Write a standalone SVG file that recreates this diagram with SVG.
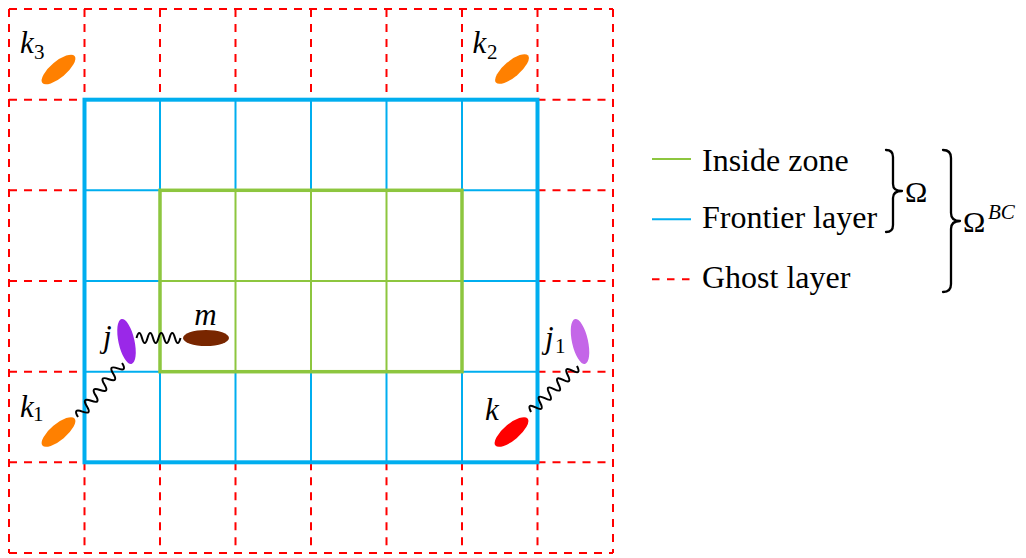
<svg xmlns="http://www.w3.org/2000/svg" width="1026" height="558" viewBox="0 0 1026 558">
<style>
.ghost{fill:none;stroke:#ff0000;stroke-width:2;stroke-dasharray:8 7}
.front{fill:none;stroke:#00aeef;stroke-width:2}
.frontbox{fill:none;stroke:#00aeef;stroke-width:4}
.inside{fill:none;stroke:#8dc63f;stroke-width:2}
.insidebox{fill:none;stroke:#8dc63f;stroke-width:3.5}
.wave{fill:none;stroke:#000;stroke-width:2}
.brace{fill:none;stroke:#000;stroke-width:2.3;stroke-linecap:round;stroke-linejoin:round}
text{font-family:"Liberation Serif","Times New Roman","DejaVu Serif",serif;fill:#000}
.mi{font-style:italic;font-size:31px}
.sub{font-size:21px}
.txt{font-size:32px}
.om{font-size:30px}
.sup{font-style:italic;font-size:21px}
</style>
<rect width="1026" height="558" fill="#fff"/>
<g id="grid">
<path class="ghost" d="M9,9H613 M9,553H613 M9,9V553 M613,9V553
M84.5,9V99.7 M160,9V99.7 M235.5,9V99.7 M311,9V99.7 M386.5,9V99.7 M462,9V99.7 M537.5,9V99.7
M84.5,462.3V553 M160,462.3V553 M235.5,462.3V553 M311,462.3V553 M386.5,462.3V553 M462,462.3V553 M537.5,462.3V553
M9,99.7H84.5 M537.5,99.7H613 M9,190.3H84.5 M537.5,190.3H613 M9,281H84.5 M537.5,281H613 M9,371.7H84.5 M537.5,371.7H613 M9,462.3H84.5 M537.5,462.3H613"/>
<path class="front" d="M160,99.7V190.3 M235.5,99.7V190.3 M311,99.7V190.3 M386.5,99.7V190.3 M462,99.7V190.3
M160,371.7V462.3 M235.5,371.7V462.3 M311,371.7V462.3 M386.5,371.7V462.3 M462,371.7V462.3
M84.5,190.3H160 M462,190.3H537.5 M84.5,281H160 M462,281H537.5 M84.5,371.7H160 M462,371.7H537.5"/>
<path class="inside" d="M235.5,190.3V371.7 M311,190.3V371.7 M386.5,190.3V371.7 M160,281H462"/>
<rect class="insidebox" x="160" y="190.3" width="302" height="181.4"/>
<rect class="frontbox" x="84.5" y="99.7" width="453" height="362.6"/>
</g>
<g id="connectors">
<path class="wave" transform="translate(136.5,338)" d="M0,0 q2.75,-10 5.5,0 t5.5,0 t5.5,0 t5.5,0 t5.5,0 t5.5,0 t5.5,0 t5.5,0"/>
<path class="wave" transform="translate(78,417) rotate(-50.8)" d="M0,0 q3.48,-10 6.97,0 t6.97,0 t6.97,0 t6.97,0 t6.97,0 t6.97,0 t6.97,0 t6.97,0 t6.97,0 t6.97,0"/>
<path class="wave" transform="translate(531,412) rotate(-45)" d="M0,0 q3.25,-10 6.5,0 t6.5,0 t6.5,0 t6.5,0 t6.5,0 t6.5,0 t6.5,0 t6.5,0 t6.5,0 t6.5,0"/>
</g>
<g id="node-k3">
<ellipse cx="58.5" cy="69.5" rx="21" ry="8" fill="#ff8000" transform="rotate(-40 58.5 69.5)"/>
<text class="mi" x="20" y="53">k</text><text class="sub" x="34" y="59">3</text>
</g>
<g id="node-k2">
<ellipse cx="512" cy="69" rx="21" ry="8" fill="#ff8000" transform="rotate(-40 512 69)"/>
<text class="mi" x="472.5" y="53">k</text><text class="sub" x="487" y="59">2</text>
</g>
<g id="node-k1">
<ellipse cx="58.5" cy="432" rx="21" ry="8" fill="#ff8000" transform="rotate(-40 58.5 432)"/>
<text class="mi" x="20" y="417">k</text><text class="sub" x="33" y="421">1</text>
</g>
<g id="node-k">
<ellipse cx="511.5" cy="432" rx="21" ry="8" fill="#ff0000" transform="rotate(-40 511.5 432)"/>
<text class="mi" x="485" y="420">k</text>
</g>
<g id="node-j">
<ellipse cx="126.5" cy="341.5" rx="8" ry="23" fill="#9a28e8" transform="rotate(-12.5 126.5 341.5)"/>
<text class="mi" x="103" y="347">j</text>
</g>
<g id="node-j1">
<ellipse cx="580" cy="341.5" rx="8" ry="23" fill="#c466e8" transform="rotate(-12.5 580 341.5)"/>
<text class="mi" x="545" y="348">j</text><text class="sub" x="555" y="353">1</text>
</g>
<g id="node-m">
<ellipse cx="206" cy="338" rx="23" ry="8" fill="#782600"/>
<text class="mi" x="205.5" y="325" text-anchor="middle">m</text>
</g>
<g id="legend">
<line x1="652" y1="159" x2="691" y2="159" stroke="#8dc63f" stroke-width="2"/>
<line x1="652" y1="219.3" x2="691" y2="219.3" stroke="#00aeef" stroke-width="2"/>
<line x1="652" y1="279.3" x2="691" y2="279.3" stroke="#ff0000" stroke-width="2" stroke-dasharray="7.5 7.5"/>
<text class="txt" x="702" y="170.5">Inside zone</text>
<text class="txt" x="702" y="227.5">Frontier layer</text>
<text class="txt" x="702" y="287.5">Ghost layer</text>
<path class="brace" d="M886,150 Q893,150 893,157 L893,184 Q893,191 902,191 Q893,191 893,198 L893,225 Q893,232 886,232"/>
<text class="om" x="905" y="202">Ω</text>
<path class="brace" d="M943,150 Q951,150 951,158 L951,213 Q951,221 960,221 Q951,221 951,229 L951,284 Q951,292 943,292"/>
<text class="om" x="963" y="232">Ω</text><text class="sup" x="988" y="219">BC</text>
</g>
</svg>
